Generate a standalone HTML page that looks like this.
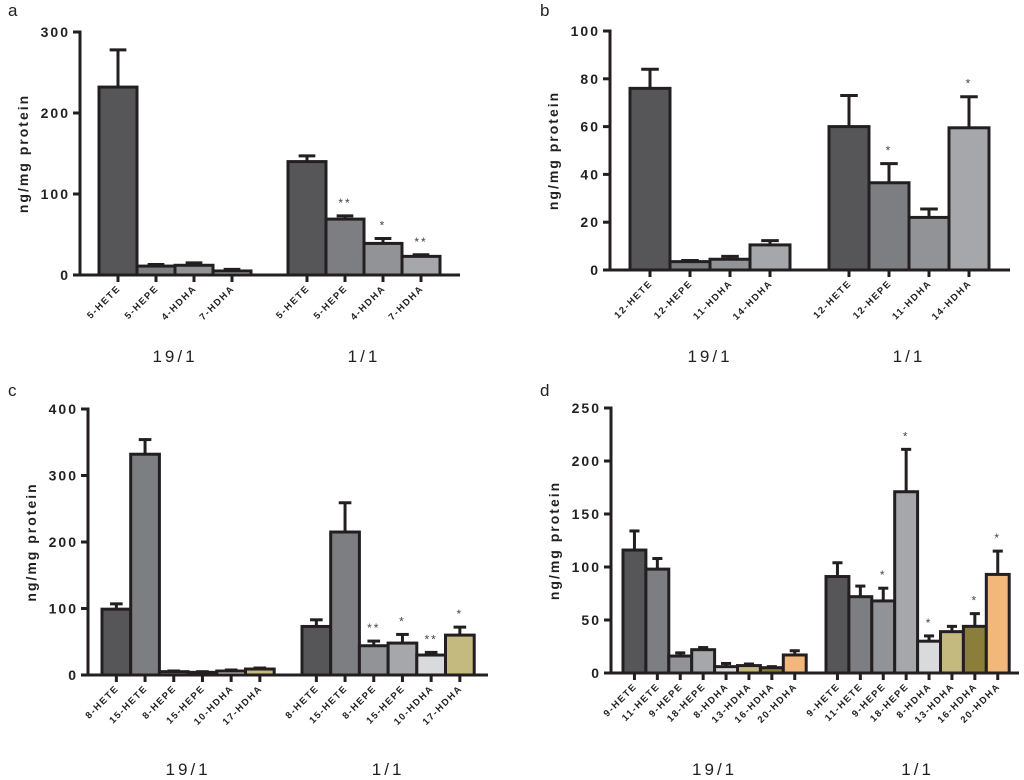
<!DOCTYPE html>
<html><head><meta charset="utf-8"><style>
html,body{margin:0;padding:0;background:#fff;}
svg{display:block;font-family:"Liberation Sans",Arial,sans-serif;}
</style></head><body>
<svg id="fig" width="1024" height="780" viewBox="0 0 1024 780" xmlns="http://www.w3.org/2000/svg"></svg>
<script>
// Panel a
const aCats = ["5-HETE","5-HEPE","4-HDHA","7-HDHA"];
const aVals19 = [232, 11, 12, 5];
const aErr19 = [46, 2, 3, 2];
const aVals11 = [140, 69, 39, 23];
const aErr11 = [7, 4, 6, 2];
const aStars11 = ["", "**", "*", "**"];
const aTicks = [0, 100, 200, 300];
// Panel b
const bCats = ["12-HETE","12-HEPE","11-HDHA","14-HDHA"];
const bVals19 = [76, 3.5, 4.5, 10.5];
const bErr19 = [8, 0.5, 1.2, 1.8];
const bVals11 = [60, 36.5, 22, 59.5];
const bErr11 = [13, 8, 3.5, 13];
const bStars11 = ["", "*", "", "*"];
const bTicks = [0, 20, 40, 60, 80, 100];
// Panel c
const cCats = ["8-HETE","15-HETE","8-HEPE","15-HEPE","10-HDHA","17-HDHA"];
const cVals19 = [99, 332, 5, 4, 6, 9];
const cErr19 = [8, 22, 1, 1, 1.5, 1.5];
const cVals11 = [73, 215, 44, 48, 30, 60];
const cErr11 = [10, 44, 7, 13, 4, 12];
const cStars11 = ["", "", "**", "*", "**", "*"];
const cTicks = [0, 100, 200, 300, 400];
// Panel d
const dCats = ["9-HETE","11-HETE","9-HEPE","18-HEPE","8-HDHA","13-HDHA","16-HDHA","20-HDHA"];
const dVals19 = [116, 98, 16, 22, 6, 7, 5, 17];
const dErr19 = [18, 10, 3, 2, 3, 1.5, 1, 4];
const dVals11 = [91, 72, 68, 171, 30, 39, 44, 93];
const dErr11 = [13, 10, 12, 40, 5, 5, 12, 22];
const dStars11 = ["", "", "*", "*", "*", "", "*", "*"];
const dTicks = [0, 50, 100, 150, 200, 250];

const NS = "http://www.w3.org/2000/svg";
const svg = document.getElementById("fig");
function mk(tag, attrs, parent){
  const e = document.createElementNS(NS, tag);
  for (const k in attrs) e.setAttribute(k, attrs[k]);
  (parent||svg).appendChild(e);
  return e;
}
function panel(cfg){
  const g = mk("g", {});
  
  
  const max = cfg.ticks[cfg.ticks.length-1];
  const y = v => cfg.y0 - (v/max)*(cfg.y0 - cfg.yTop);
  const lt = mk("text", {x: cfg.lx, y: cfg.ly, "font-size": 17, fill: "#222"}, g);
  lt.textContent = cfg.letter;
  
  
  // y axis
  const ya = mk("line", {x1: cfg.ax, x2: cfg.ax, y1: cfg.yTop - 1.5, y2: cfg.y0 + 1.5, stroke: "#231f20", "stroke-width": 3}, g);
  
  
  cfg.ticks.forEach(t => {
    mk("line", {x1: cfg.ax - 7, x2: cfg.ax, y1: y(t), y2: y(t), stroke: "#231f20", "stroke-width": 3}, g);
    const tl = mk("text", {x: cfg.ax - 10, y: y(t) + 5, "font-size": 14, "font-weight": "bold", "text-anchor": "end", "letter-spacing": "2", fill: "#231f20"}, g);
    tl.textContent = t;
    
    
  });
  const yt = mk("text", {x: 0, y: 0, "font-size": 14, "font-weight": "bold", "text-anchor": "middle", "letter-spacing": "2", fill: "#231f20",
    transform: `translate(${cfg.ax - 52},${(cfg.yTop + cfg.y0)/2}) rotate(-90)`}, g);
  yt.textContent = "ng/mg protein";
  
  
  // x axis
  const xa = mk("line", {x1: cfg.ax - 7, x2: cfg.axEnd, y1: cfg.y0, y2: cfg.y0, stroke: "#231f20", "stroke-width": 3}, g);
  
  
  const groups = [
    {start: cfg.g1, vals: cfg.v19, errs: cfg.e19, stars: null, label: "19/1"},
    {start: cfg.g2, vals: cfg.v11, errs: cfg.e11, stars: cfg.s11, label: "1/1"}
  ];
  groups.forEach((gr, gi) => {
    gr.vals.forEach((v, i) => {
      const x = gr.start + i*cfg.bw;
      const cx = x + cfg.bw/2;
      const top = y(v + gr.errs[i]);
      const cap = cfg.bw*0.22;
      const el = mk("line", {x1: cx, x2: cx, y1: top, y2: y(v), stroke: "#231f20", "stroke-width": 3}, g);
      
      
      mk("line", {x1: cx - cap, x2: cx + cap, y1: top, y2: top, stroke: "#231f20", "stroke-width": 3}, g);
      const r = mk("rect", {x: x, y: y(v), width: cfg.bw, height: cfg.y0 - y(v), fill: cfg.colors[i], stroke: "#231f20", "stroke-width": 3}, g);
      
      
      mk("line", {x1: cx, x2: cx, y1: cfg.y0, y2: cfg.y0 + 7, stroke: "#231f20", "stroke-width": 3}, g);
      const xl = mk("text", {x: 0, y: 0, "font-size": 9.5, "font-weight": "bold", "text-anchor": "end", "letter-spacing": "1.5", fill: "#231f20",
        transform: `translate(${cx + 3},${cfg.y0 + 14}) rotate(-45)`}, g);
      xl.textContent = cfg.cats[i];
      
      
      if (gr.stars && gr.stars[i]) {
        const st = mk("text", {x: cx, y: top - 9, "font-size": 12, "text-anchor": "middle", "letter-spacing": "2", fill: "#444"}, g);
        st.textContent = gr.stars[i];
        
        
      }
    });
    const gx = gr.start + gr.vals.length*cfg.bw/2;
    const gl = mk("text", {x: gx, y: cfg.glY, "font-size": 17, "text-anchor": "middle", "letter-spacing": "3", fill: "#231f20"}, g);
    gl.textContent = gr.label;
    
    
  });
}
const C1="#565659", C2="#7d7e82", C3="#929396", C4="#a6a7aa", C5="#d9dadb", C6="#c4b97f", C7="#8b7d3a", C8="#f2b77a";
panel({letter:"a", lx:8, ly:16, ax:80, axEnd:460, yTop:32, y0:275, ticks:aTicks, g1:99, g2:288, bw:38,
  cats:aCats, v19:aVals19, e19:aErr19, v11:aVals11, e11:aErr11, s11:aStars11, colors:[C1,C2,C3,C4], glY:362});
panel({letter:"b", lx:540, ly:16, ax:610, axEnd:1010, yTop:31, y0:270, ticks:bTicks, g1:630, g2:829, bw:40,
  cats:bCats, v19:bVals19, e19:bErr19, v11:bVals11, e11:bErr11, s11:bStars11, colors:[C1,C2,C3,C4], glY:362});
panel({letter:"c", lx:8, ly:396, ax:88, axEnd:488, yTop:409, y0:675, ticks:cTicks, g1:102, g2:302, bw:28.7,
  cats:cCats, v19:cVals19, e19:cErr19, v11:cVals11, e11:cErr11, s11:cStars11, colors:[C1,C2,C3,C4,C5,C6], glY:775});
panel({letter:"d", lx:540, ly:396, ax:611, axEnd:1019, yTop:408, y0:673, ticks:dTicks, g1:623, g2:826, bw:22.9,
  cats:dCats, v19:dVals19, e19:dErr19, v11:dVals11, e11:dErr11, s11:dStars11, colors:[C1,C2,C3,C4,C5,C6,C7,C8], glY:775});
</script>
</body></html>
